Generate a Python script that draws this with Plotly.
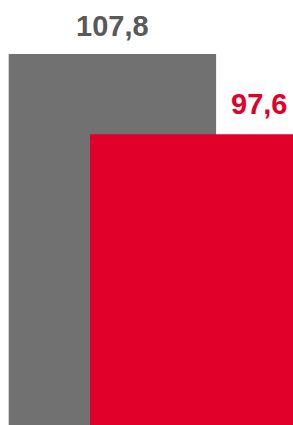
import plotly.graph_objects as go

categories = ["A", "B"]
values = [107.8, 97.6]
labels = ["107,8", "97,6"]
bar_colors = ["#717171", "#E1002A"]
label_colors = ["#595959", "#E1002A"]

xpos = [0, 1]
fig = go.Figure()
for i in range(len(categories)):
    fig.add_trace(go.Bar(
        x=[xpos[i]], y=[values[i]], width=2.551,
        marker=dict(color=bar_colors[i], line=dict(width=0)),
        name=categories[i], showlegend=False, hoverinfo="skip",
    ))

label_x = [0, 1.803]
label_shift = [28.1, 30.5]
for i in range(len(categories)):
    fig.add_annotation(
        x=label_x[i], y=values[i], text="<b>%s</b>" % labels[i],
        showarrow=False, xanchor="center", yanchor="middle", yshift=label_shift[i],
        font=dict(family="Liberation Sans, Arial, sans-serif", size=29, color=label_colors[i]),
    )

fig.update_layout(
    barmode="overlay",
    width=293, height=425,
    margin=dict(l=0, r=0, t=0, b=0),
    paper_bgcolor="white", plot_bgcolor="white",
    xaxis=dict(range=[-1.3825, 2.2214], visible=False, fixedrange=True),
    yaxis=dict(range=[60.68, 114.66], visible=False, fixedrange=True),
)
fig.write_html("out.html", config={"displayModeBar": False},
               post_script="document.body.style.margin='0';document.body.style.overflow='hidden';")
